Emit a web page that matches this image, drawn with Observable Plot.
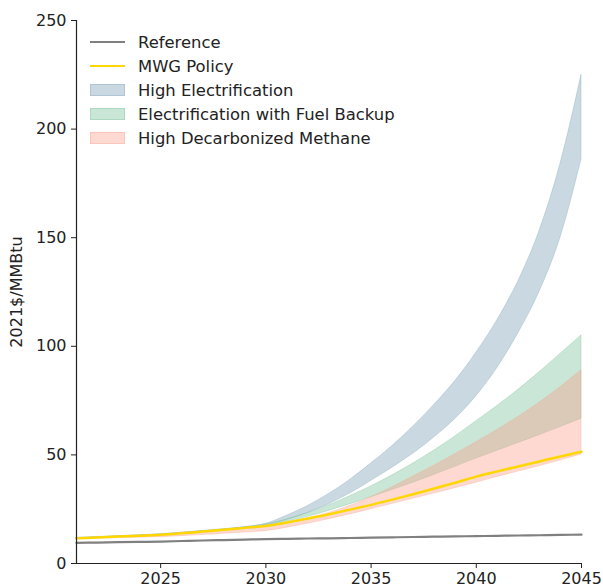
<!DOCTYPE html>
<html>
<head>
<meta charset="utf-8">
<script src="https://cdn.jsdelivr.net/npm/d3@7"></script>
<script src="https://cdn.jsdelivr.net/npm/@observablehq/plot@0.6"></script>
<style>
  html, body { margin: 0; padding: 0; background: white; }
  #wrap { position: relative; width: 603px; height: 588px; font-family: "DejaVu Sans", sans-serif; }
  #legend { position: absolute; left: 90px; top: 30px; font-size: 16.4px; color: #222; }
  .row { display: flex; align-items: center; height: 24px; }
  .sw { width: 35px; height: 24px; margin-right: 13px; display: flex; align-items: center; }
  .ln { width: 35px; height: 2.4px; }
  .bx { width: 33px; height: 10px; }
</style>
</head>
<body>
<div id="wrap"><div id="chart"></div><div id="legend"></div></div>
<script>
const years = [2021,2022,2023,2024,2025,2026,2027,2028,2029,2030,2031,2032,2033,2034,2035,2036,2037,2038,2039,2040,2041,2042,2043,2044,2045];
const reference = [9.5,9.65,9.8,9.95,10.1,10.35,10.6,10.8,11.0,11.2,11.35,11.5,11.6,11.75,11.9,12.05,12.2,12.35,12.5,12.6,12.75,12.9,13.0,13.15,13.3];
const mwgPolicy = [11.6,12.0,12.4,12.8,13.2,13.9,14.7,15.5,16.4,17.3,18.9,20.7,22.7,24.8,27.0,29.4,31.9,34.5,37.2,40.0,42.4,44.7,47.0,49.3,51.5];
const highElecLow = [11.5,11.9,12.3,12.7,13.2,13.9,14.7,15.5,16.4,17.5,20,23.3,27.3,32.2,38,44,50.5,58,66.5,77,90,106,125,150,186];
const highElecHigh = [11.8,12.2,12.6,13.0,13.5,14.2,15.0,15.8,16.8,18.3,22,26.5,32,38.5,46,54,63,73,84,97,112,130,153,184,225];
const fuelBackupLow = [11.5,11.9,12.3,12.7,13.1,13.8,14.6,15.4,16.2,17.1,19.2,21.5,24.2,27.2,30.5,33.8,37.2,40.8,44.5,48.3,51.9,55.5,59.1,62.8,66.7];
const fuelBackupHigh = [11.7,12.1,12.5,12.9,13.4,14.1,14.9,15.7,16.6,17.9,20.3,23.2,26.8,31,35.5,40.5,46,52,58.5,65.5,72.5,80,88,96.5,105];
const methaneLow = [11.3,11.5,11.7,11.9,12.1,12.6,13.1,13.7,14.3,14.9,16.5,18.3,20.4,22.6,25.0,27.4,29.8,32.2,34.7,37.2,39.8,42.3,44.8,47.4,50.2];
const methaneHigh = [11.6,12.0,12.4,12.8,13.2,13.9,14.7,15.5,16.4,17.3,18.8,20.8,23.3,26.5,30.5,35,40,45,50.3,55.8,61.5,67.5,74,81.2,89];
const xTicks = [2025,2030,2035,2040,2045];
const yTicks = [0,50,100,150,200,250];
const seriesNames = ["Reference","MWG Policy","High Electrification","Electrification with Fuel Backup","High Decarbonized Methane"];

const colors = {ref: "#808080", mwg: "#FFD700", he: "#7a9fb5", efb: "#78c098", hdm: "#faa08c"};
const bandOpacity = 0.4;

const data = years.map((year, i) => ({
  year,
  ref: reference[i], mwg: mwgPolicy[i],
  heLow: highElecLow[i], heHigh: highElecHigh[i],
  efbLow: fuelBackupLow[i], efbHigh: fuelBackupHigh[i],
  hdmLow: methaneLow[i], hdmHigh: methaneHigh[i]
}));

function band(lo, hi, c) {
  return Plot.areaY(data, {x: "year", y1: lo, y2: hi, curve: "monotone-x", fill: c, fillOpacity: bandOpacity,
    stroke: c, strokeOpacity: bandOpacity, strokeWidth: 0.8});
}

const chart = Plot.plot({
  width: 603, height: 588,
  marginLeft: 76, marginRight: 22, marginTop: 20, marginBottom: 25,
  style: {fontFamily: "DejaVu Sans, sans-serif", fontSize: "16px", color: "#222", background: "white"},
  x: {domain: [2021, 2045], ticks: xTicks, tickFormat: d => String(d), tickSize: 5, tickPadding: 4, label: null},
  y: {domain: [0, 250], ticks: yTicks, tickSize: 5, tickPadding: 5, label: "2021$/MMBtu", labelAnchor: "center", labelOffset: 66, labelArrow: "none"},
  marks: [
    band("heLow", "heHigh", colors.he),
    band("efbLow", "efbHigh", colors.efb),
    band("hdmLow", "hdmHigh", colors.hdm),
    Plot.lineY(data, {x: "year", y: "ref", curve: "monotone-x", stroke: colors.ref, strokeWidth: 2.2}),
    Plot.lineY(data, {x: "year", y: "mwg", curve: "monotone-x", stroke: colors.mwg, strokeWidth: 2.5}),
    Plot.ruleY([0], {stroke: "#222", strokeWidth: 1.2}),
    Plot.ruleX([2021], {stroke: "#222", strokeWidth: 1.2})
  ]
});
document.getElementById("chart").appendChild(chart);

const legendItems = [
  {name: seriesNames[0], type: "line", c: colors.ref},
  {name: seriesNames[1], type: "line", c: colors.mwg},
  {name: seriesNames[2], type: "box", c: colors.he},
  {name: seriesNames[3], type: "box", c: colors.efb},
  {name: seriesNames[4], type: "box", c: colors.hdm}
];
const leg = document.getElementById("legend");
for (const it of legendItems) {
  const row = document.createElement("div"); row.className = "row";
  const sw = document.createElement("div"); sw.className = "sw";
  const s = document.createElement("div");
  if (it.type === "line") { s.className = "ln"; s.style.background = it.c; }
  else {
    s.className = "bx";
    s.style.background = d3.interpolateRgb("white", it.c)(bandOpacity);
    s.style.border = "1px solid " + d3.interpolateRgb("white", it.c)(0.6);
  }
  sw.appendChild(s);
  const t = document.createElement("span"); t.textContent = it.name;
  row.appendChild(sw); row.appendChild(t);
  leg.appendChild(row);
}
</script>
</body>
</html>
